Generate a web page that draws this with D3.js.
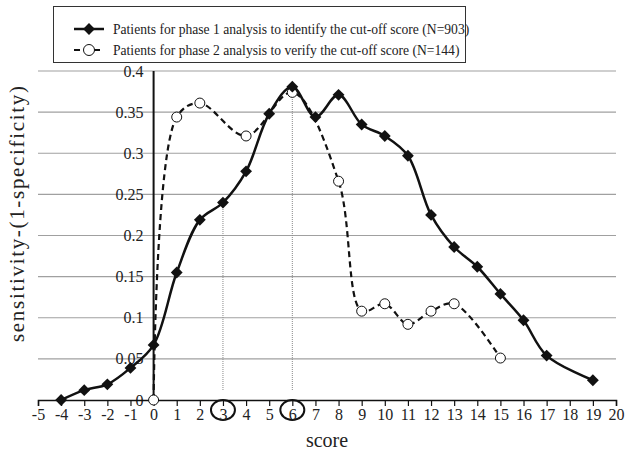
<!DOCTYPE html>
<html>
<head>
<meta charset="utf-8">
<script src="https://cdn.jsdelivr.net/npm/d3@7"></script>
<style>
  body { margin: 0; background: #fff; }
  text { font-family: "Liberation Serif", "Times New Roman", serif; fill: #222; }
</style>
</head>
<body>
<div id="graph"></div>
<script>
var phase1Scores = [-4, -3, -2, -1, 0, 1, 2, 3, 4, 5, 6, 7, 8, 9, 10, 11, 12, 13, 14, 15, 16, 17, 19];
var phase1Values = [0, 0.012, 0.019, 0.039, 0.067, 0.155, 0.219, 0.24, 0.278, 0.348, 0.381, 0.344, 0.371, 0.335, 0.321, 0.297, 0.225, 0.186, 0.162, 0.129, 0.097, 0.054, 0.024];
var phase2Scores = [0, 1, 2, 4, 6, 8, 9, 10, 11, 12, 13, 15];
var phase2Values = [0, 0.344, 0.361, 0.321, 0.374, 0.266, 0.108, 0.117, 0.092, 0.108, 0.117, 0.051];
var xTicks = d3.range(-5, 21);
var yTicks = [0, 0.05, 0.1, 0.15, 0.2, 0.25, 0.3, 0.35, 0.4];
var cutOffs = [3, 6];
var legendLabels = [
    "Patients for phase 1 analysis to identify the cut-off score (N=903)",
    "Patients for phase 2 analysis to verify the cut-off score (N=144)"
];

var width = 625, height = 454;
var svg = d3.select("#graph").append("svg")
    .attr("width", width)
    .attr("height", height);

var x = d3.scaleLinear().domain([-5, 20]).range([38, 616]);
var y = d3.scaleLinear().domain([0, 0.4]).range([400, 71]);

var phase1 = phase1Scores.map(function(s, i) { return {x: s, y: phase1Values[i]}; });
var phase2 = phase2Scores.map(function(s, i) { return {x: s, y: phase2Values[i]}; });

// grid
svg.append("g").selectAll("line")
    .data(yTicks.filter(function(d) { return d > 0; }))
    .enter().append("line")
    .attr("x1", x(-5)).attr("x2", x(20))
    .attr("y1", function(d) { return y(d); })
    .attr("y2", function(d) { return y(d); })
    .attr("stroke", "#a0a0a0")
    .attr("stroke-width", 1.2);

// y tick labels (drawn over the grid, like the original)
svg.append("g").selectAll("text")
    .data(yTicks)
    .enter().append("text")
    .attr("x", x(0) - 10)
    .attr("y", function(d) { return y(d); })
    .attr("dy", "0.35em")
    .attr("text-anchor", "end")
    .attr("font-size", 16)
    .text(function(d) { return d; });

// cut-off markers
var cutG = svg.append("g");
cutG.selectAll("line")
    .data(cutOffs)
    .enter().append("line")
    .attr("x1", function(d) { return x(d); })
    .attr("x2", function(d) { return x(d); })
    .attr("y1", y(0) - 10)
    .attr("y2", function(d) { return y(phase1Values[phase1Scores.indexOf(d)]); })
    .attr("stroke", "#888")
    .attr("stroke-width", 1)
    .attr("stroke-dasharray", "1,1");

// x axis
var xAxis = d3.axisBottom(x)
    .tickValues(xTicks)
    .tickSize(6)
    .tickPadding(3)
    .tickFormat(function(d) { return String(d); });
var xg = svg.append("g")
    .attr("transform", "translate(0," + y(0) + ")")
    .call(xAxis);
xg.select(".domain").attr("stroke", "#111").attr("stroke-width", 1.5);
xg.selectAll(".tick line").attr("stroke", "#111").attr("stroke-width", 1.2);
xg.selectAll(".tick text")
    .attr("font-size", 16)
    .attr("fill", "#222");

cutG.selectAll("ellipse")
    .data(cutOffs)
    .enter().append("ellipse")
    .attr("cx", function(d) { return x(d); })
    .attr("cy", y(0) + 10)
    .attr("rx", 12)
    .attr("ry", 10)
    .attr("fill", "none")
    .attr("stroke", "#111")
    .attr("stroke-width", 2);

// vertical axis at score 0
svg.append("line")
    .attr("x1", x(0)).attr("x2", x(0))
    .attr("y1", y(0)).attr("y2", y(0.4))
    .attr("stroke", "#111")
    .attr("stroke-width", 2);

var line = d3.line()
    .x(function(d) { return x(d.x); })
    .y(function(d) { return y(d.y); })
    .curve(d3.curveCatmullRom.alpha(0.5));

svg.append("path")
    .datum(phase2)
    .attr("d", line)
    .attr("fill", "none")
    .attr("stroke", "#111")
    .attr("stroke-width", 2.2)
    .attr("stroke-dasharray", "6,4");

svg.append("g").selectAll("circle")
    .data(phase2)
    .enter().append("circle")
    .attr("cx", function(d) { return x(d.x); })
    .attr("cy", function(d) { return y(d.y); })
    .attr("r", 5)
    .attr("fill", "#fff")
    .attr("stroke", "#111")
    .attr("stroke-width", 1);

svg.append("path")
    .datum(phase1)
    .attr("d", line)
    .attr("fill", "none")
    .attr("stroke", "#111")
    .attr("stroke-width", 2.5);

var diamond = d3.symbol().type(d3.symbolSquare).size(70);
svg.append("g").selectAll("path")
    .data(phase1)
    .enter().append("path")
    .attr("d", diamond)
    .attr("transform", function(d) { return "translate(" + x(d.x) + "," + y(d.y) + ") rotate(45)"; })
    .attr("fill", "#111");

// axis titles
svg.append("text")
    .attr("x", (x(-5) + x(20)) / 2)
    .attr("y", 447)
    .attr("text-anchor", "middle")
    .attr("font-size", 20)
    .text("score");

svg.append("text")
    .attr("transform", "translate(24," + 214 + ") rotate(-90)")
    .attr("text-anchor", "middle")
    .attr("font-size", 21)
    .attr("textLength", 256)
    .attr("lengthAdjust", "spacing")
    .text("sensitivity-(1-specificity)");

// legend
var legend = svg.append("g");
legend.append("rect")
    .attr("x", 53.5).attr("y", 6.5)
    .attr("width", 412).attr("height", 56)
    .attr("fill", "#fff")
    .attr("stroke", "#333")
    .attr("stroke-width", 1);

var rows = legend.selectAll("g.row")
    .data(legendLabels)
    .enter().append("g")
    .attr("class", "row")
    .attr("transform", function(d, i) { return "translate(0," + (29 + i * 21) + ")"; });

rows.append("line")
    .attr("x1", 74).attr("x2", 104)
    .attr("stroke", "#111")
    .attr("stroke-width", function(d, i) { return i === 0 ? 2.5 : 2.2; })
    .attr("stroke-dasharray", function(d, i) { return i === 0 ? null : "6,4"; });

rows.filter(function(d, i) { return i === 0; })
    .append("path")
    .attr("d", diamond)
    .attr("transform", "translate(89,0) rotate(45)")
    .attr("fill", "#111");

rows.filter(function(d, i) { return i === 1; })
    .append("circle")
    .attr("cx", 89).attr("r", 5.5)
    .attr("fill", "#fff")
    .attr("stroke", "#111");

rows.append("text")
    .attr("x", 113)
    .attr("dy", "0.35em")
    .attr("font-size", 13.6)
    .text(function(d) { return d; });
</script>
</body>
</html>
